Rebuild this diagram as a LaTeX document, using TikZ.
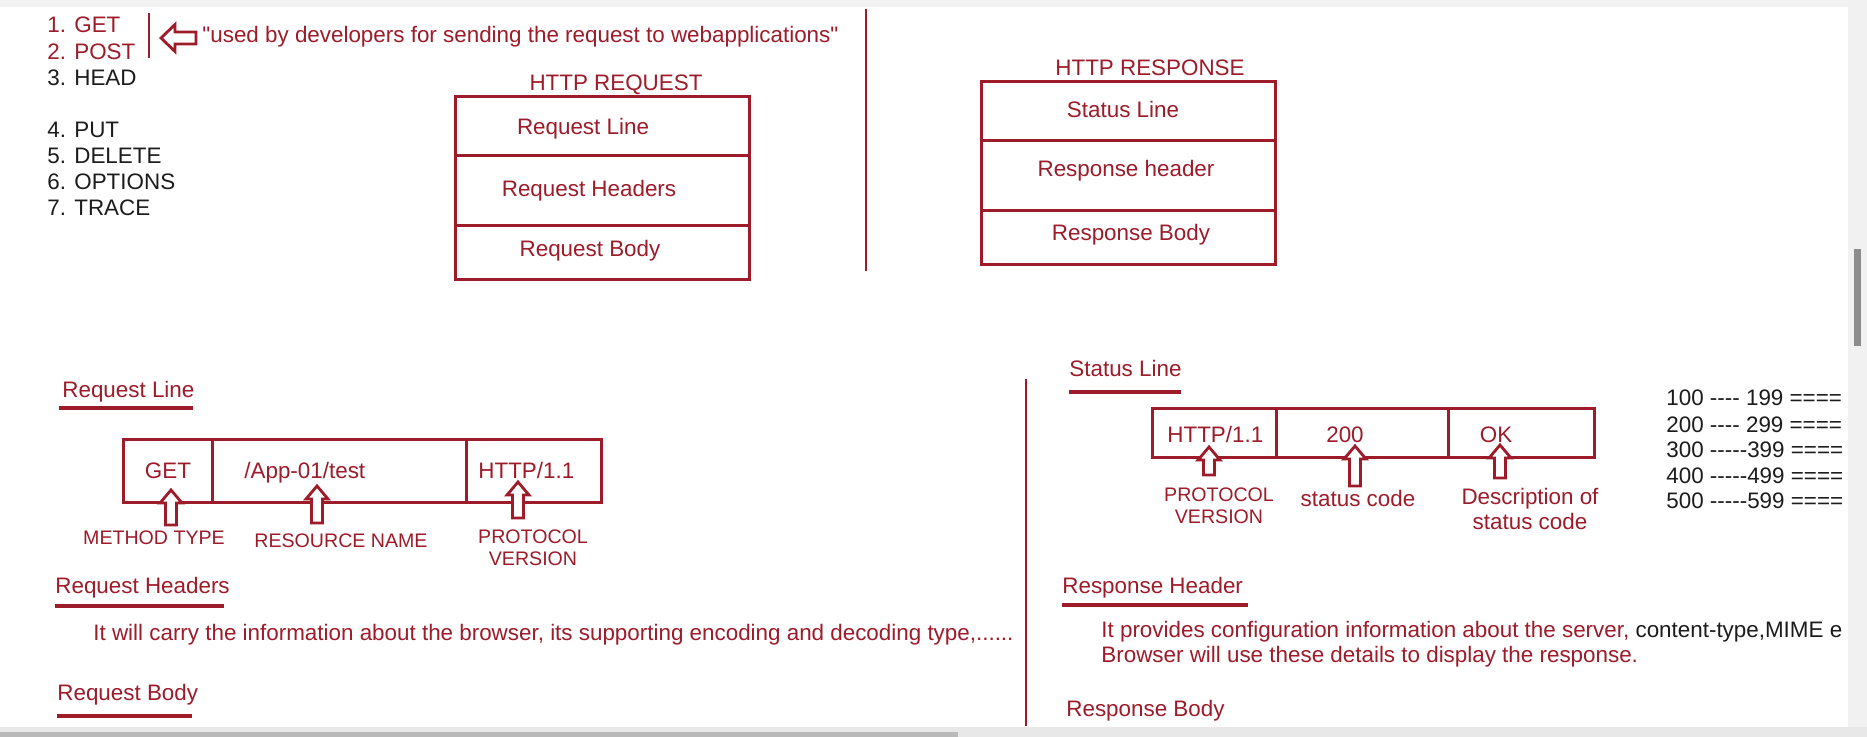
\documentclass[tikz,border=0pt]{standalone}
\usepackage{fontspec}
\setmainfont{Liberation Sans}[Ligatures=TeXOff]
\usetikzlibrary{positioning,calc}
\definecolor{httpRed}{RGB}{158,27,42}
\definecolor{inkBlack}{RGB}{28,28,28}
\definecolor{barGray}{RGB}{241,241,241}
\definecolor{thumbGray}{RGB}{140,140,140}
\tikzset{
  txt/.style={inner sep=0pt, text=httpRed, font=\fontsize{11.2}{12.5}\selectfont},
  blk/.style={txt, text=inkBlack},
  codes/.style={blk, font=\fontsize{11.2}{12.5}\selectfont},
  lbl/.style={txt, font=\fontsize{9.8}{11.2}\selectfont, align=center},
  twoline/.style={txt, align=center},
  frame/.style={draw=httpRed, line width=1.5pt},
  rule/.style={draw=httpRed, line width=1.3pt},
  uline/.style={draw=httpRed, line width=1.6pt},
  arrlen/.store in=\arrlen, arrlen=35,
  hollowup/.pic={\draw[draw=httpRed, line width=1.4pt, fill=white, line join=miter]
    (0,0) -- (11,13) -- (5.5,13) -- (5.5,\arrlen) -- (-5.5,\arrlen) -- (-5.5,13) -- (-11,13) -- cycle;},
  hollowleft/.pic={\draw[draw=httpRed, line width=1.4pt, fill=white, line join=miter]
    (0,0) -- (14,-13.5) -- (14,-6) -- (35,-6) -- (35,6) -- (14,6) -- (14,13.5) -- cycle;}
}

\begin{document}
\begin{tikzpicture}[x=0.5pt, y=-0.5pt]
\useasboundingbox (0,0) rectangle (1867,737);
\fill[white] (0,0) rectangle (1867,737);
\fill[barGray] (0,0) rectangle (1867,7);
\fill[barGray] (1848,0) rectangle (1867,737);
\fill[thumbGray] (1854,249) rectangle (1861,346);
\fill[gray!18] (0,727) rectangle (1867,737);
\fill[gray!55] (0,732) rectangle (958,737);

\node[txt, anchor=base west] (get) at (47,33) {1. GET};
\node[txt, anchor=base west] (post) at (47,60) {2. POST};
\node[blk, anchor=base west] (head) at (47,86) {3. HEAD};
\node[blk, anchor=base west] (put) at (47,138) {4. PUT};
\node[blk, anchor=base west] (delete) at (47,164) {5. DELETE};
\node[blk, anchor=base west] (options) at (47,190) {6. OPTIONS};
\node[blk, anchor=base west] (trace) at (47,216) {7. TRACE};
\draw[rule] (149,13) -- (149,58);
\pic at (161,38) {hollowleft};
\node[txt, anchor=base west] (note) at (202,43) {"used by developers for sending the request to webapplications"};

\node[txt, anchor=base] (reqtitle) at (616,91) {HTTP REQUEST};
\draw[frame] (455,97) rectangle (749,280) (455,156) -- (749,156) (455,226) -- (749,226);
\node[txt, anchor=base] (reqline) at (583,135) {Request Line};
\node[txt, anchor=base] (reqhead) at (589,197) {Request Headers};
\node[txt, anchor=base] (reqbody) at (590,257) {Request Body};

\draw[rule] (866,9) -- (866,271);

\node[txt, anchor=base] (restitle) at (1150,76) {HTTP RESPONSE};
\draw[frame] (981,82) rectangle (1275,265) (981,141) -- (1275,141) (981,211) -- (1275,211);
\node[txt, anchor=base] (statline) at (1123,118) {Status Line};
\node[txt, anchor=base] (reshead) at (1126,177) {Response header};
\node[txt, anchor=base] (resbody) at (1131,241) {Response Body};

\node[txt, anchor=base west] (hreqline) at (62,398) {Request Line};
\draw[uline] (59,408) -- (193,408);
\draw[frame] (123,439) rectangle (601,502) (212,439) -- (212,502) (466,439) -- (466,502);
\node[txt, anchor=base] (fget) at (168,478) {GET};
\node[txt, anchor=base west] (fpath) at (244,478) {/App-01/test};
\node[txt, anchor=base west] (fproto) at (478,478) {HTTP/1.1};
\pic[arrlen=35] at (171,490) {hollowup};
\pic[arrlen=37] at (317,486) {hollowup};
\pic[arrlen=36] at (518,482) {hollowup};
\node[lbl, anchor=base] (lmethod) at (154,544) {METHOD TYPE};
\node[lbl, anchor=base] (lres) at (341,547) {RESOURCE NAME};
\node[lbl, anchor=north] (lproto) at (533,529) {PROTOCOL\\VERSION};

\node[txt, anchor=base west] (hreqhead) at (55,593) {Request Headers};
\draw[uline] (55,606) -- (224,606);
\node[txt, anchor=base west] (reqheadtxt) at (93,640) {It will carry the information about the browser, its supporting encoding and decoding type,......};
\node[txt, anchor=base west] (hreqbody) at (57,700) {Request Body};
\draw[uline] (57,716) -- (192,716);

\draw[rule] (1026,379) -- (1026,726);

\node[txt, anchor=base west] (hstatline) at (1069,377) {Status Line};
\draw[uline] (1069,392) -- (1181,392);
\draw[frame] (1152,408) rectangle (1594,457) (1276,408) -- (1276,457) (1448,408) -- (1448,457);
\node[txt, anchor=base west] (sproto) at (1167,442) {HTTP/1.1};
\node[txt, anchor=base] (scode) at (1345,442) {200};
\node[txt, anchor=base] (sdesc) at (1496,442) {OK};
\pic[arrlen=28] at (1209,447) {hollowup};
\pic[arrlen=40] at (1355,446) {hollowup};
\pic[arrlen=33] at (1500,445) {hollowup};
\node[lbl, anchor=north] (lsproto) at (1219,487) {PROTOCOL\\VERSION};
\node[txt, anchor=base] (lscode) at (1358,506) {status code};
\node[twoline, anchor=north] (lsdesc) at (1530,488) {Description of\\status code};

\begin{scope}
\clip (0,0) rectangle (1847,737);
\node[codes, anchor=base west] (c1) at (1666,406) {100 ---- 199 ====};
\node[codes, anchor=base west] (c2) at (1666,432) {200 ---- 299 ====};
\node[codes, anchor=base west] (c3) at (1666,457) {300 -----399 ====};
\node[codes, anchor=base west] (c4) at (1666,483) {400 -----499 ====};
\node[codes, anchor=base west] (c5) at (1666,508) {500 -----599 ====};
\node[txt, anchor=base west] (reshtxt) at (1101,637) {It provides configuration information about the server, \textcolor{inkBlack}{content-type,MIME e}};
\end{scope}

\node[txt, anchor=base west] (hreshead) at (1062,593) {Response Header};
\draw[uline] (1062,605) -- (1248,605);
\node[txt, anchor=base west] (reshtxt2) at (1101,662) {Browser will use these details to display the response.};
\node[txt, anchor=base west] (hresbody) at (1066,716) {Response Body};
\end{tikzpicture}
\end{document}
